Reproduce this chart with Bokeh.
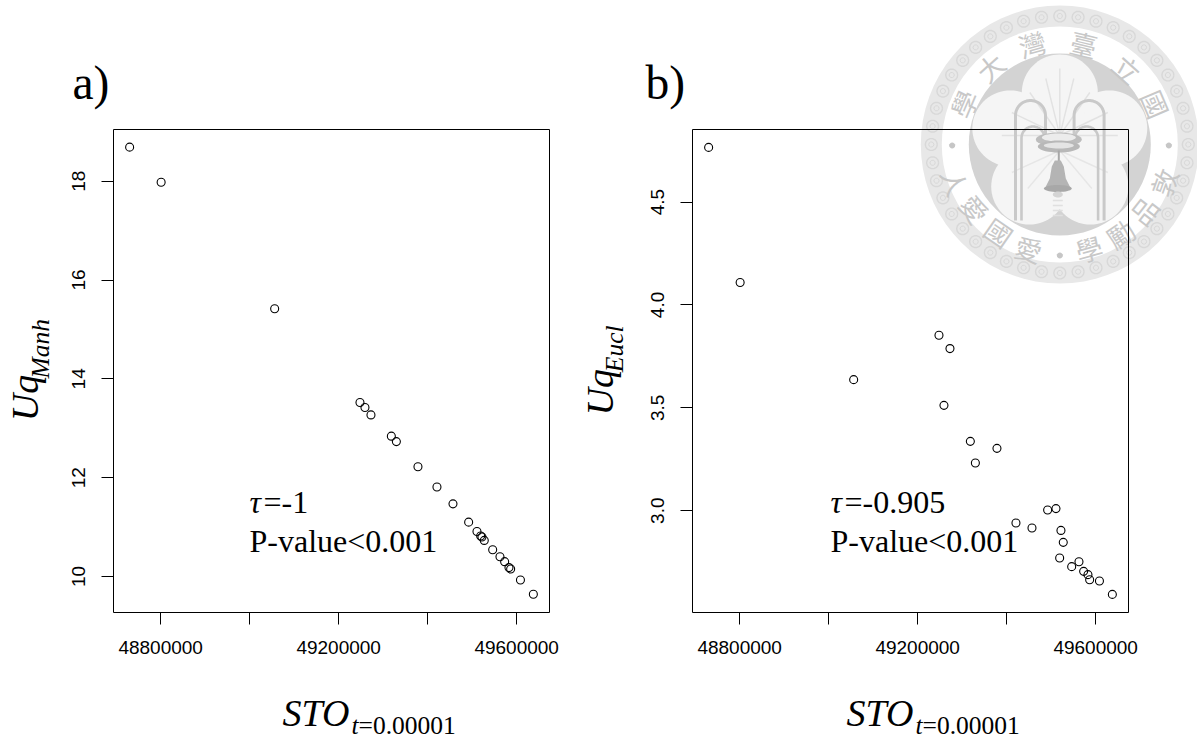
import numpy as np
from bokeh.plotting import figure
from bokeh.embed import file_html
from bokeh.resources import INLINE
from bokeh.models import Range1d, FixedTicker
from bokeh.core.properties import value

# ---- data ----
sto = [48730300, 48801100, 49056200, 49247900, 49259100, 49272600, 49318400, 49329700,
       49378200, 49420900, 49456900, 49492100, 49510800, 49519100, 49522000, 49527200,
       49546100, 49562500, 49573000, 49582700, 49586500, 49608500, 49637500]
uq_manh = [18.69, 17.98, 15.42, 13.52, 13.42, 13.27, 12.84, 12.73,
           12.22, 11.81, 11.47, 11.10, 10.91, 10.82, 10.80, 10.73,
           10.54, 10.40, 10.30, 10.18, 10.15, 9.93, 9.64]
uq_eucl = [4.766, 4.109, 3.637, 3.853, 3.512, 3.788, 3.337, 3.232,
           3.303, 2.940, 2.916, 3.003, 3.010, 2.770, 2.904, 2.846,
           2.728, 2.752, 2.705, 2.689, 2.664, 2.658, 2.593]
x_ticks = [48800000, 49000000, 49200000, 49400000, 49600000]
x_tick_labels = ["48800000", " ", "49200000", " ", "49600000"]
y_ticks_a = [10, 12, 14, 16, 18]
y_tick_labels_a = ["10", "12", "14", "16", "18"]
y_ticks_b = [3.0, 3.5, 4.0, 4.5]
y_tick_labels_b = ["3.0", "3.5", "4.0", "4.5"]
x_limits = (48694054, 49673786)
y_limits_a = (9.271, 19.047)
y_limits_b = (2.505, 4.853)

SERIF = "Liberation Serif"
SANS = "Liberation Sans"
W, H = 1197, 740
TOP, FH = 129, 483


def place(left):
    return {"position": "absolute", "left": f"{left}px", "top": "0px"}


# ---- page-wide layer behind the two panels: the seal and the large texts ----
bg = figure(width=W, height=H, output_backend="svg", toolbar_location=None,
            x_range=Range1d(0, W), y_range=Range1d(H, 0), x_axis_type=None, y_axis_type=None,
            min_border=0, outline_line_color=None, background_fill_color="white",
            border_fill_color="white", styles=place(0))
bg.grid.visible = False


def panel(left, width, y, ylim, yt, ytl):
    fw = 436
    p = figure(width=width, height=H, output_backend="svg", toolbar_location=None,
               x_range=Range1d(*x_limits), y_range=Range1d(*ylim),
               frame_width=fw, frame_height=FH,
               min_border_left=left, min_border_right=width - left - fw,
               min_border_top=TOP, min_border_bottom=H - TOP - FH,
               background_fill_color=None, border_fill_color=None)
    p.grid.visible = False
    p.outline_line_color = "black"
    p.outline_line_width = 1
    for ax, ticks, labels in ((p.xaxis[0], x_ticks, x_tick_labels), (p.yaxis[0], yt, ytl)):
        ax.ticker = FixedTicker(ticks=ticks)
        ax.major_label_overrides = {float(t) if t != int(t) else int(t): s for t, s in zip(ticks, labels)}
        ax.minor_tick_line_color = None
        ax.axis_line_color = None
        ax.major_tick_in = 0
        ax.major_tick_out = 12
        ax.major_tick_line_color = "black"
        ax.major_label_text_font = SANS
        ax.major_label_text_font_size = "19px"
        ax.major_label_text_color = "black"
    p.xaxis[0].major_label_standoff = 12
    p.yaxis[0].major_label_standoff = 16
    p.yaxis[0].major_label_orientation = "vertical"
    p.scatter(sto, y, marker="circle", size=8, line_color="black", line_width=1.1, fill_color=None)
    return p


p1 = panel(113, 580, uq_manh, y_limits_a, y_ticks_a, y_tick_labels_a)
p2 = panel(112, 617, uq_eucl, y_limits_b, y_ticks_b, y_tick_labels_b)
p1.styles = place(0)
p2.styles = place(580)

# the text glyph sets an alphabetic baseline this far below the point it is given
BASE_SHIFT = 0.36
HALF = np.pi / 2


def txt(s, x, y, size, style="normal", angle=0.0, color="black", font=SERIF,
        align="left", base="alphabetic"):
    if base == "alphabetic":
        if angle:
            x -= BASE_SHIFT * size
        else:
            y -= BASE_SHIFT * size
    bg.text(x=[x], y=[y], text=[s], text_font=value(font), text_font_size=f"{size}px",
            text_font_style=style, angle=angle, text_color=color,
            text_align=align, text_baseline=base)


CX, CY = 1059.3, 144.0


def poly(xs, ys, fill):
    bg.patch(list(map(float, xs)), list(map(float, ys)), fill_color=fill, line_color=None)


def circle(cx, cy, r, fill, n=72):
    a = np.linspace(0, 2 * np.pi, n, endpoint=False)
    poly(cx + r * np.cos(a), cy + r * np.sin(a), fill)


def ring(cx, cy, r, color, lw, n=14):
    a = np.linspace(0, 2 * np.pi, n + 1)
    bg.line(list(cx + r * np.cos(a)), list(cy + r * np.sin(a)), line_color=color, line_width=lw)


def arch(x0, x1, top, y0, y1, color="#c9c9c9", lw=3.0):
    r = abs(x1 - x0) / 2
    a = np.linspace(np.pi, 2 * np.pi, 30) if x0 < x1 else np.linspace(2 * np.pi, np.pi, 30)
    xs = np.r_[x0, (x0 + x1) / 2 + r * np.cos(a), x1]
    ys = np.r_[y0, top + r + r * np.sin(a), y1]
    bg.line(list(xs), list(ys), line_color=color, line_width=lw)


circle(CX, CY, 139, "#e8e8e8")
for k in range(44):
    a = 2 * np.pi * k / 44
    rx, ry = CX + 128.5 * np.cos(a), CY + 128.5 * np.sin(a)
    ring(rx, ry, 6.0, "#d8d8d8", 1.4)
    ring(rx, ry, 2.6, "#d8d8d8", 1.0, n=10)
circle(CX, CY, 118, "white")
circle(CX, CY, 91, "#d3d3d3")
for k in range(5):
    a = -HALF + 2 * np.pi * k / 5
    circle(CX + 52 * np.cos(a), CY + 52 * np.sin(a), 38, "#f5f5f5")
circle(CX, CY, 40, "#f5f5f5")

# rice stalks
for dx, ty in ((0, 68), (-14, 78), (14, 78), (-30, 92), (30, 92), (-48, 112), (48, 112), (-58, 135), (58, 135)):
    bg.line([CX, CX + dx], [135, ty], line_color="#e2e2e2", line_width=1.4)
for dx, ty in ((-48, 172), (48, 172), (-32, 188), (32, 188)):
    bg.line([CX, CX + dx], [150, ty], line_color="#e6e6e6", line_width=1.4)

# arches of the gate
for mirror in (False, True):
    f = (lambda v: 2 * CX - v) if mirror else (lambda v: v)
    arch(f(1015), f(1045), 100, 220, 134)
    arch(f(1021), f(1044), 126, 220, 136, lw=2.6)

# bowl above the bell
a = np.linspace(0, 2 * np.pi, 40)
bx = CX - 1
poly(bx + 23 * np.cos(a), 139 + 7 * np.sin(a), "#bdbdbd")
poly(bx + 17 * np.cos(a), 137 + 4 * np.sin(a), "#ececec")
poly(bx + 21 * np.cos(a), 146 + 6 * np.sin(a), "#b8b8b8")
poly(bx + 15 * np.cos(a), 145 + 3 * np.sin(a), "#e4e4e4")
bg.line([bx, bx], [150, 162], line_color="#a8a8a8", line_width=2)
# the bell
bx = CX - 2
poly([bx - 3, bx + 3, bx + 6, bx + 8, bx + 13, bx - 13, bx - 8, bx - 6],
     [160, 160, 166, 178, 188, 188, 178, 166], "#b4b4b4")
poly(bx + 14 * np.cos(a), 188 + 3.5 * np.sin(a), "#a8a8a8")
poly(bx + 5 * np.cos(a), 194 + 3 * np.sin(a), "#d4d4d4")
for yy in (200, 205, 210, 215):
    bg.line([bx - 5, bx + 5], [yy, yy], line_color="#e0e0e0", line_width=1.6)

# the characters of the seal
SEAL = "#c8c8c8"
top_chars = [("\u5b78", 190, 310), ("\u5927", 270, 200), ("\u7063", 395, 130),
             ("\u81fa", 550, 130), ("\u7acb", 680, 205), ("\u570b", 765, 310)]
low_chars = [("\u6566", 790, 545), ("\u54c1", 730, 630), ("\u52f5", 660, 700), ("\u5b78", 565, 745),
             ("\u611b", 385, 745), ("\u570b", 295, 695), ("\u611b", 222, 625), ("\u4eba", 165, 545)]
for ch, dx, dy in top_chars:
    sx, sy = 900 + dx / 3, dy / 3
    th = np.arctan2(sx - CX, CY - sy)
    txt(ch, sx, sy, 27, angle=float(-th), color=SEAL, font="Noto Sans CJK TC", align="center", base="middle")
for ch, dx, dy in low_chars:
    sx, sy = 900 + dx / 3, dy / 3
    th = np.arctan2(sx - CX, CY - sy)
    txt(ch, sx, sy, 27, angle=float(-(th - np.pi)), color=SEAL, font="Noto Sans CJK TC", align="center", base="middle")
for dx, dy in ((155, 435), (805, 435), (478, 765)):
    circle(900 + dx / 3, dy / 3, 3, "#c6c6c6", n=16)

# the large texts
txt("a)", 72, 100, 47.5)
txt("b)", 645, 100, 47.5)
txt("\u03c4", 249, 513, 32, style="italic")
txt("=-1", 263, 513, 32)
txt("P-value<0.001", 249, 551.7, 32)
txt("\u03c4", 830, 513, 32, style="italic")
txt("=-0.905", 844, 513, 32)
txt("P-value<0.001", 830, 551.7, 32)
txt("STO", 282, 726, 38, style="italic")
txt("t", 351, 734, 25.5, style="italic")
txt("=0.00001", 358, 734, 25.5)
txt("STO", 846, 726, 38, style="italic")
txt("t", 915, 734, 25.5, style="italic")
txt("=0.00001", 922, 734, 25.5)
txt("Uq", 38, 420.7, 38, style="italic", angle=HALF)
txt("Manh", 49.3, 378, 25.5, style="italic", angle=HALF)
txt("Uq", 613.3, 415, 38, style="italic", angle=HALF)
txt("Eucl", 623.3, 371.7, 25.5, style="italic", angle=HALF)

open("out.html", "w").write(file_html([bg, p1, p2], INLINE))
